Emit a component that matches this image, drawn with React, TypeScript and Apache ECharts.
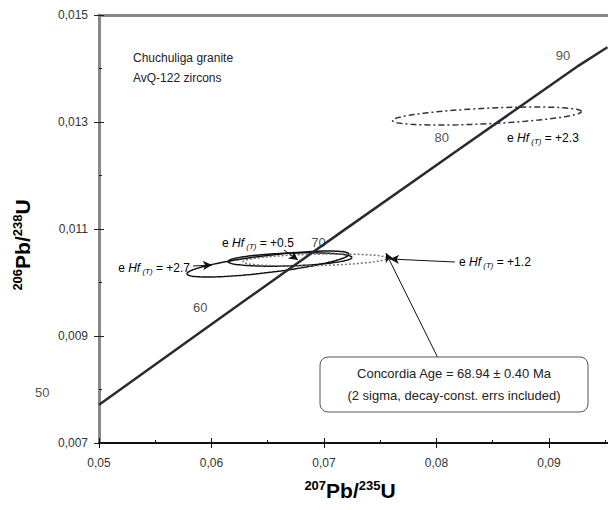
import React, { useEffect, useRef } from 'react';
import * as echarts from 'echarts';

// Concordia curve (207Pb/235U, 206Pb/238U), with age ticks
const concordiaAges = [49.5, 50, 60, 70, 80, 90, 92.2];
const concordiaX = [0.05, 0.05047, 0.06087, 0.07137, 0.08198, 0.09268, 0.0952];
const concordiaY = [0.007715, 0.007786, 0.009351, 0.010918, 0.012487, 0.014059, 0.014398];
const ageTicks = [50, 60, 70, 80, 90];

// Zircon error ellipses
const ellipseNames = ['+2.7', '+0.5', '+1.2', '+2.3'];
const ellipseCx = [0.06502, 0.06698, 0.0692, 0.08449];
const ellipseCy = [0.010346, 0.01043, 0.010421, 0.013112];
const ellipseSx = [0.0072, 0.00551, 0.0064, 0.0084];
const ellipseSy = [0.000243, 0.000125, 0.000112, 0.000168];
const ellipseRho = [0.75, 0.3, 0.3, 0.5];

const xTicks = ['0,05', '0,06', '0,07', '0,08', '0,09'];
const yTicks = ['0,007', '0,009', '0,011', '0,013', '0,015'];

const FONT = '"Liberation Sans", Arial, sans-serif';

function ellipsePoints(i: number): number[][] {
  const pts: number[][] = [];
  const r = ellipseRho[i];
  for (let k = 0; k <= 120; k++) {
    const t = (k / 120) * Math.PI * 2;
    pts.push([
      ellipseCx[i] + ellipseSx[i] * Math.cos(t),
      ellipseCy[i] + ellipseSy[i] * (r * Math.cos(t) + Math.sqrt(1 - r * r) * Math.sin(t)),
    ]);
  }
  return pts;
}

export default function App() {
  const ref = useRef<HTMLDivElement>(null);
  useEffect(() => {
    if (!ref.current) return;
    const chart = echarts.init(ref.current, null, { renderer: 'svg' });

    const concData = concordiaX.map((x, i) => [x, concordiaY[i], concordiaAges[i]]);
    const tickData = ageTicks.map((a) => {
      const i = concordiaAges.indexOf(a);
      return [concordiaX[i], concordiaY[i], a];
    });
    const labelOffsets: Record<number, number[]> = {
      50: [-62, -8],
      60: [-21, -10],
      70: [-21, 9],
      80: [-17, -12],
      90: [-16, -10],
    };

    const ellipseStyles = [
      { color: '#111', width: 1.5, type: 'solid' },
      { color: '#111', width: 1.5, type: 'solid' },
      { color: '#777', width: 1.5, type: [2, 2] },
      { color: '#333', width: 1.5, type: [6, 3, 2, 3] },
    ];

    const arrowSeg = (x1: number, y1: number, x2: number, y2: number) => [
      { coord: [x1, y1] },
      { coord: [x2, y2] },
    ];

    const hfRich = {
      n: { fontSize: 12, fontFamily: FONT, color: '#222' },
      i: { fontSize: 12, fontFamily: FONT, fontStyle: 'italic', color: '#222' },
      s: { fontSize: 8, fontFamily: FONT, fontStyle: 'italic', color: '#222', padding: [7, 0, 0, 0] },
    };
    const hfText = (v: string) => `{n|e }{i|Hf}{s| (T)}{n| = ${v}}`;

    const nameRich = {
      sup: { fontSize: 13, fontWeight: 'bold', fontFamily: FONT, color: '#111', verticalAlign: 'top', padding: [0, 0, 10, 0] },
      b: { fontSize: 21, fontWeight: 'bold', fontFamily: FONT, color: '#111' },
    };

    const xFmt = (v: number) => {
      const idx = Math.round((v - 0.05) / 0.01);
      return Math.abs(v - (0.05 + idx * 0.01)) < 1e-6 && xTicks[idx] ? xTicks[idx] : '';
    };
    const yFmt = (v: number) => {
      const idx = Math.round((v - 0.007) / 0.002);
      return Math.abs(v - (0.007 + idx * 0.002)) < 1e-7 && yTicks[idx] ? yTicks[idx] : '';
    };

    chart.setOption({
      animation: false,
      backgroundColor: '#fff',
      grid: { left: 99, right: 0, top: 15, bottom: 67, containLabel: false },
      xAxis: [
        {
          type: 'value', min: 0.05, max: 0.09525, interval: 0.01, position: 'bottom',
          axisLine: { show: true, onZero: false, lineStyle: { color: '#111', width: 2 } },
          axisTick: { show: true, length: 5, lineStyle: { color: '#111', width: 1 } },
          minorTick: { show: false },
          axisLabel: { formatter: xFmt, margin: 14, fontSize: 12, color: '#333', fontFamily: FONT, showMaxLabel: false },
          splitLine: { show: false },
        },
        {
          type: 'value', min: 0.05, max: 0.09525, interval: 0.01, position: 'bottom',
          axisLine: { show: false, onZero: false },
          axisTick: { show: true, inside: true, length: 5, lineStyle: { color: '#111', width: 1 } },
          minorTick: { show: true, splitNumber: 2, length: 3, lineStyle: { color: '#111', width: 1 } },
          axisLabel: { show: false },
          splitLine: { show: false },
        },
        {
          type: 'value', min: 0.05, max: 0.09525, position: 'top',
          axisLine: { show: true, onZero: false, lineStyle: { color: '#888', width: 3 } },
          axisTick: { show: false }, axisLabel: { show: false }, splitLine: { show: false },
        },
      ],
      yAxis: [
        {
          type: 'value', min: 0.007, max: 0.015, interval: 0.002, position: 'left',
          axisLine: { show: true, onZero: false, lineStyle: { color: '#888', width: 3 } },
          axisTick: { show: true, length: 5, lineStyle: { color: '#222', width: 1 } },
          minorTick: { show: false },
          axisLabel: { formatter: yFmt, margin: 11, fontSize: 12, color: '#333', fontFamily: FONT },
          splitLine: { show: false },
        },
        {
          type: 'value', min: 0.007, max: 0.015, interval: 0.002, position: 'left',
          axisLine: { show: false, onZero: false },
          axisTick: { show: true, inside: true, length: 5, lineStyle: { color: '#222', width: 1 } },
          minorTick: { show: true, splitNumber: 2, length: 3, lineStyle: { color: '#222', width: 1 } },
          axisLabel: { show: false },
          splitLine: { show: false },
        },
      ],
      series: [
        {
          type: 'line', name: 'concordia', data: concData, showSymbol: false, symbol: 'none',
          lineStyle: { color: '#2a2a35', width: 2.5 }, z: 3, silent: true,
          markLine: {
            silent: true, symbol: ['none', 'arrow'], symbolSize: [7, 9],
            lineStyle: { color: '#111', width: 1, type: 'solid' },
            label: { show: false },
            data: [
              arrowSeg(0.058356, 0.010308, 0.060044, 0.010327),
              arrowSeg(0.066444, 0.010607, 0.067689, 0.010421),
              arrowSeg(0.081644, 0.010383, 0.075867, 0.010439),
              arrowSeg(0.080133, 0.008589, 0.075511, 0.010551),
            ],
          },
        },
        {
          type: 'scatter', name: 'ticks', data: tickData, symbolSize: 0, silent: true,
          label: {
            show: true, position: 'inside', fontSize: 13, color: '#222', fontFamily: FONT,
            formatter: (p: any) => String(p.value[2]),
          },
          labelLayout: (p: any) => {
            const age = tickData[p.dataIndex][2] as number;
            const o = labelOffsets[age];
            return { dx: o[0], dy: o[1] };
          },
          z: 6,
        },
        ...ellipseNames.map((n, i) => ({
          type: 'line', name: 'eHf ' + n, data: ellipsePoints(i), showSymbol: false, symbol: 'none',
          lineStyle: ellipseStyles[i], z: 2, silent: true,
        })),
      ],
      graphic: [
        { type: 'text', left: 133, top: 52, style: { text: 'Chuchuliga granite', fontSize: 12, fontFamily: FONT, fill: '#222' } },
        { type: 'text', left: 133, top: 72, style: { text: 'AvQ-122 zircons', fontSize: 12, fontFamily: FONT, fill: '#222' } },
        { type: 'text', x: 190, y: 268, style: { text: hfText('+2.7'), rich: hfRich, align: 'right', verticalAlign: 'middle' } },
        { type: 'text', x: 222, y: 243, style: { text: hfText('+0.5'), rich: hfRich, align: 'left', verticalAlign: 'middle' } },
        { type: 'text', x: 459, y: 262, style: { text: hfText('+1.2'), rich: hfRich, align: 'left', verticalAlign: 'middle' } },
        { type: 'text', x: 507, y: 138, style: { text: hfText('+2.3'), rich: hfRich, align: 'left', verticalAlign: 'middle' } },
        {
          type: 'rect', shape: { x: 320, y: 357, width: 268, height: 55, r: 8 },
          style: { fill: '#fff', stroke: '#555', lineWidth: 1 }, z: 10,
        },
        { type: 'text', x: 454, y: 373, z: 11, style: { text: 'Concordia Age = 68.94 ± 0.40 Ma', fontSize: 13, fontFamily: FONT, fill: '#222', align: 'center', verticalAlign: 'middle' } },
        { type: 'text', x: 454, y: 395, z: 11, style: { text: '(2 sigma, decay-const. errs included)', fontSize: 13, fontFamily: FONT, fill: '#222', align: 'center', verticalAlign: 'middle' } },
        { type: 'text', x: 350, y: 490, style: { text: '{sup|207}{b|Pb/}{sup|235}{b|U}', rich: nameRich, align: 'center', verticalAlign: 'middle' } },
        { type: 'text', x: 22, y: 245, rotation: Math.PI / 2, style: { text: '{sup|206}{b|Pb/}{sup|238}{b|U}', rich: nameRich, align: 'center', verticalAlign: 'middle' } },
      ],
    });
    return () => chart.dispose();
  }, []);
  return <div ref={ref} style={{ position: 'fixed', left: 0, top: 0, width: 608, height: 510 }} />;
}
